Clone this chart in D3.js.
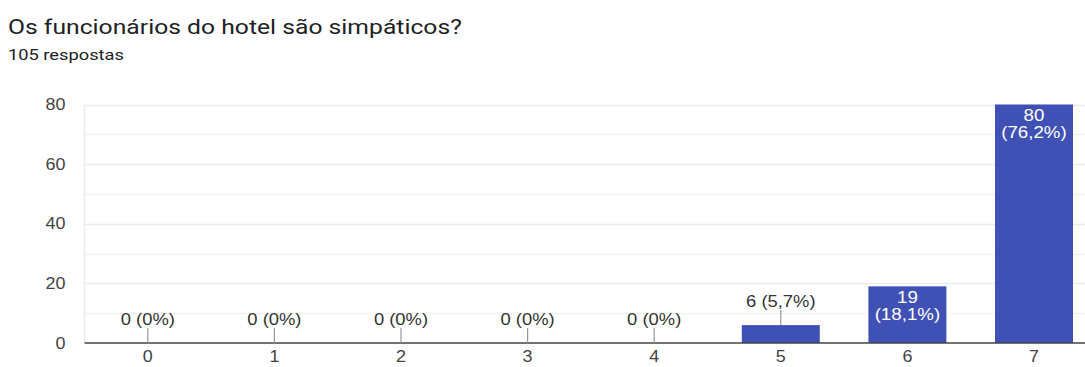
<!DOCTYPE html>
<html><head><meta charset="utf-8">
<script src="https://cdn.jsdelivr.net/npm/d3@7"></script>
<style>body{margin:0;background:#fff;overflow:hidden}svg{display:block}</style>
</head><body>
<svg id="c" width="1085" height="367"></svg>
<script>
const title = "Os funcionários do hotel são simpáticos?";
const subtitle = "105 respostas";
const categories = ["0","1","2","3","4","5","6","7"];
const values = [0,0,0,0,0,6,19,80];
const percentLabels = ["0%","0%","0%","0%","0%","5,7%","18,1%","76,2%"];
const yTicks = [0,20,40,60,80];
const yGrid = [10,20,30,40,50,60,70,80];

(function(){
const svg = d3.select("#c");
const left = 84.5, step = 126.6, plotTop = 104.5, base = 343;
const x = d3.scaleBand().domain(categories).range([left, left + step*categories.length])
  .paddingInner(0.384).paddingOuter(0.192);
const y = d3.scaleLinear().domain([0,80]).range([base, plotTop]);
const axisFont = "'Liberation Sans', Arial, sans-serif";

function stretch(sel, s){
  sel.each(function(){
    const t = d3.select(this);
    const x0 = +(t.attr("x")||0);
    t.attr("x", x0/s).attr("transform", `scale(${s},1)`);
  });
}

const tt = svg.append("text").attr("x",8).attr("y",34).text(title)
  .attr("font-family","Roboto, sans-serif").attr("font-size",20).attr("fill","#202124");
stretch(tt, 1.235);
const st = svg.append("text").attr("x",8).attr("y",60).text(subtitle)
  .attr("font-family","Roboto, sans-serif").attr("font-size",15.5).attr("fill","#202124");
stretch(st, 1.18);

// grid
svg.append("g").selectAll("line").data(yGrid).join("line")
  .attr("x1",left).attr("x2",1085).attr("y1",d=>Math.round(y(d))+0.5).attr("y2",d=>Math.round(y(d))+0.5)
  .attr("stroke",d=>d%20===0?"#ebebeb":"#f3f3f3").attr("stroke-width",1.5);
svg.append("line").attr("x1",left).attr("x2",left).attr("y1",plotTop).attr("y2",base)
  .attr("stroke","#ebebeb").attr("stroke-width",1.5);

// y axis labels
const yAxis = d3.axisLeft(y).tickValues(yTicks).tickSize(0).tickPadding(19);
const gy = svg.append("g").attr("transform",`translate(${left},0)`).call(yAxis);
gy.select(".domain").remove();
gy.selectAll("text").attr("font-family",axisFont).attr("font-size",16).attr("fill","#444");
stretch(gy.selectAll("text"), 1.12);

// bars
svg.append("g").selectAll("rect").data(values).join("rect")
  .attr("x",(d,i)=>x(categories[i])).attr("width",x.bandwidth())
  .attr("y",d=>y(d)).attr("height",d=>base-y(d)).attr("fill","#3f51b5");

// baseline
svg.append("line").attr("x1",left).attr("x2",1085).attr("y1",base).attr("y2",base)
  .attr("stroke","#444").attr("stroke-width",1.3);

// x axis
const xAxis = d3.axisBottom(x).tickSize(0).tickPadding(8);
const gx = svg.append("g").attr("transform",`translate(0,${base})`).call(xAxis);
gx.select(".domain").remove();
gx.selectAll("text").attr("font-family",axisFont).attr("font-size",16).attr("fill","#444");
stretch(gx.selectAll("text"), 1.12);

// value labels
const lbl = svg.append("g").attr("font-family",axisFont).attr("font-size",16).attr("text-anchor","middle");
values.forEach((v,i)=>{
  const cx = x(categories[i]) + x.bandwidth()/2;
  if (base - y(v) > 40) {
    stretch(lbl.append("text").attr("x",cx).attr("y",y(v)+17).attr("fill","#fff").text(v), 1.17);
    stretch(lbl.append("text").attr("x",cx).attr("y",y(v)+34).attr("fill","#fff").text("("+percentLabels[i]+")"), 1.17);
  } else {
    const t = y(v);
    lbl.append("line").attr("x1",cx).attr("x2",cx).attr("y1",t).attr("y2",t-15)
      .attr("stroke","#999").attr("stroke-width",1.2);
    stretch(lbl.append("text").attr("x",cx).attr("y",t-18).attr("fill","#333").text(v+" ("+percentLabels[i]+")"), 1.15);
  }
});
})();
</script>
</body></html>
